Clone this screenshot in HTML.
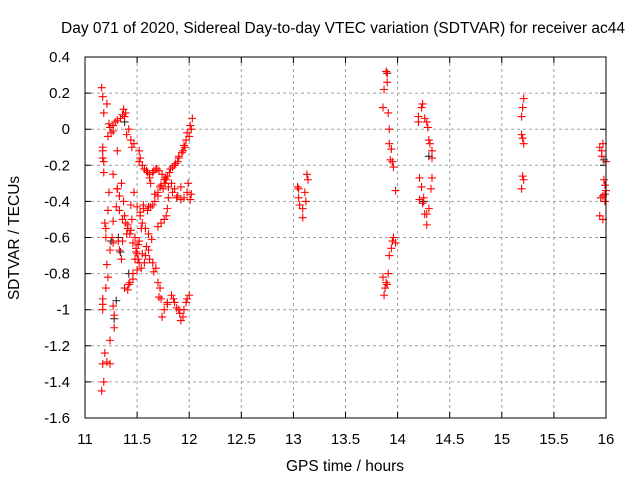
<!DOCTYPE html>
<html><head><meta charset="utf-8"><style>
html,body{margin:0;padding:0;background:#fff;}
svg{display:block;font-family:"Liberation Sans",Arial,sans-serif;}
</style></head><body>
<svg id="chart" width="640" height="480" viewBox="0 0 640 480" xmlns="http://www.w3.org/2000/svg">
<rect x="0" y="0" width="640" height="480" fill="#fff"/>
<text x="343" y="33" font-size="15.5" text-anchor="middle" fill="#000">Day 071 of 2020, Sidereal Day-to-day VTEC variation (SDTVAR) for receiver ac44</text>
<text transform="translate(19,238) rotate(-90)" font-size="15.5" text-anchor="middle" fill="#000">SDTVAR / TECUs</text>
<text x="345" y="471" font-size="15.5" text-anchor="middle" fill="#000">GPS time / hours</text>
<g id="grid"></g>
<g id="ticks"></g>
<g id="marks"></g>
<rect x="85" y="57" width="521" height="361" fill="none" stroke="#000" stroke-width="1"/>
</svg>
<script>
const xTicks = [11, 11.5, 12, 12.5, 13, 13.5, 14, 14.5, 15, 15.5, 16];
const xTickLabels = ["11","11.5","12","12.5","13","13.5","14","14.5","15","15.5","16"];
const yTicks = [0.4, 0.2, 0, -0.2, -0.4, -0.6, -0.8, -1, -1.2, -1.4, -1.6];
const yTickLabels = ["0.4","0.2","0","-0.2","-0.4","-0.6","-0.8","-1","-1.2","-1.4","-1.6"];
const redTimes = [
11.16,11.17,11.21,11.18,11.24,11.27,11.22,11.17,11.17,11.31,11.17,11.18,11.18,11.27,11.31,
11.21,11.22,11.2,11.17,11.17,11.17,11.27,11.28,11.28,11.24,11.19,11.21,11.17,11.24,11.18,11.16,
11.26,11.27,11.24,11.33,11.27,11.2,11.22,
11.27,11.31,11.36,11.39,11.37,11.42,11.44,11.47,11.52,11.53,11.52,11.57,11.6,11.62,11.65,11.68,11.71,11.76,11.79,11.82,11.86,11.89,11.9,11.94,11.95,11.97,11.98,12.01,12.03,
11.31,11.33,11.3,11.38,11.39,11.41,11.43,11.46,11.49,11.5,11.52,11.5,11.46,11.43,11.41,11.38,
11.5,11.53,11.56,11.61,11.65,11.7,11.75,11.78,11.83,11.86,11.89,11.92,11.95,11.98,12.01,
11.7,11.73,11.76,11.78,11.79,11.64,11.61,11.58,11.57,11.54,11.65,11.66,11.7,11.71,11.73,11.76,11.74,11.79,11.83,11.86,11.88,11.91,11.92,11.95,11.98,12.0,
11.58,11.61,11.55,11.53,11.49,11.55,11.35,11.37,11.33,11.45,11.44,11.4,11.36,11.47,11.63,11.67,11.72,11.8,11.92,11.99,12.02,11.48,11.52,
11.23,11.25,11.29,11.34,11.38,11.4,11.45,11.55,11.59,11.62,11.66,11.69,11.74,11.77,11.81,11.84,11.87,11.9,11.93,11.96,12.0,12.02,
11.36,11.41,11.44,11.48,11.51,11.56,11.6,11.63,11.67,11.7,11.73,11.77,11.8,11.84,11.88,
11.32,11.35,11.42,11.46,11.51,11.54,11.59,11.62,11.68,11.72,11.79,11.85,11.9,11.94,11.97,11.2,11.23,11.19,
13.13,13.14,13.04,13.05,13.11,13.05,13.12,13.06,13.09,13.09,
13.89,13.9,13.9,13.87,13.86,13.91,13.92,13.92,13.94,13.93,13.95,13.96,13.98,13.96,13.95,13.98,13.94,13.92,13.91,13.86,13.89,13.9,13.88,13.87,
14.24,14.23,14.2,14.26,14.2,14.28,14.29,14.3,14.31,14.33,14.33,14.21,14.33,14.23,14.32,14.25,14.21,14.24,14.3,14.26,14.28,14.28,
15.21,15.2,15.19,15.19,15.2,15.21,15.2,15.21,15.19,
15.97,15.94,15.96,15.96,16.0,15.98,15.99,16.0,15.95,15.97,15.99,15.99,15.94,15.97
];
const redValues = [
0.23,0.18,0.14,0.09,0.01,-0.01,-0.04,-0.10,-0.12,-0.12,-0.16,-0.18,-0.24,-0.25,-0.33,
-0.75,-0.82,-0.88,-0.94,-0.97,-1.0,-0.98,-1.03,-1.10,-1.17,-1.24,-1.29,-1.30,-1.30,-1.40,-1.45,
-0.6,-0.63,-0.67,-0.67,-0.51,-0.55,-0.45,
0.02,0.05,0.08,0.09,0.11,0.0,-0.06,-0.08,-0.12,-0.16,-0.18,-0.22,-0.24,-0.27,-0.24,-0.22,-0.23,-0.28,-0.26,-0.22,-0.2,-0.18,-0.15,-0.12,-0.09,-0.06,-0.02,0.02,0.06,
-0.33,-0.37,-0.43,-0.48,-0.52,-0.55,-0.58,-0.63,-0.66,-0.69,-0.74,-0.78,-0.83,-0.85,-0.89,-0.88,
-0.43,-0.46,-0.44,-0.43,-0.42,-0.37,-0.33,-0.28,-0.3,-0.33,-0.37,-0.39,-0.38,-0.35,-0.39,
-0.54,-0.52,-0.5,-0.48,-0.44,-0.61,-0.67,-0.70,-0.74,-0.77,-0.74,-0.79,-0.85,-0.93,-0.94,-1.0,-1.04,-0.97,-0.92,-0.96,-0.99,-1.02,-1.06,-1.0,-0.94,-0.92,
-0.55,-0.58,-0.52,-0.48,-0.68,-0.69,-0.3,-0.4,-0.45,-0.5,-0.42,-0.58,-0.62,-0.35,-0.3,-0.36,-0.32,-0.38,-0.32,-0.3,-0.36,-0.72,-0.62,
0.03,-0.02,0.04,0.06,0.07,-0.03,-0.1,-0.2,-0.23,-0.25,-0.23,-0.22,-0.25,-0.27,-0.24,-0.21,-0.19,-0.16,-0.13,-0.1,-0.04,0.0,
-0.5,-0.53,-0.56,-0.6,-0.64,-0.42,-0.45,-0.43,-0.4,-0.35,-0.31,-0.3,-0.32,-0.35,-0.38,
-0.62,-0.72,-0.86,-0.8,-0.72,-0.55,-0.65,-0.72,-0.77,-0.88,-0.96,-0.94,-1.0,-1.04,-0.96,-0.6,-0.35,-0.52,
-0.25,-0.28,-0.32,-0.38,-0.35,-0.33,-0.4,-0.42,-0.44,-0.49,
0.32,0.31,0.26,0.22,0.12,0.09,0.0,-0.08,-0.11,-0.17,-0.18,-0.21,-0.34,-0.60,-0.62,-0.63,-0.66,-0.70,-0.80,-0.82,-0.85,-0.86,-0.88,-0.92,
0.14,0.12,0.07,0.06,0.04,0.04,0.01,-0.06,-0.08,-0.12,-0.16,-0.27,-0.27,-0.32,-0.33,-0.38,-0.39,-0.41,-0.44,-0.47,-0.47,-0.53,
0.17,0.12,0.07,-0.03,-0.05,-0.08,-0.26,-0.28,-0.33,
-0.08,-0.10,-0.12,-0.15,-0.18,-0.28,-0.31,-0.34,-0.38,-0.37,-0.36,-0.40,-0.48,-0.50
];
const blackTimes = [13.9, 11.32, 11.34, 11.3, 11.28, 11.38, 11.42, 14.3, 15.98, 14.25, 11.25];
const blackValues = [0.31, -0.6, -0.68, -0.95, -1.05, 0.04, -0.8, -0.15, -0.17, -0.4, -0.62];

const X0 = 85, X1 = 606, Y0 = 418, Y1 = 57;
function xScale(t){ return X0 + (t - 11) / 5 * (X1 - X0); }
function yScale(v){ return Y0 - (v + 1.6) / 2 * (Y0 - Y1); }
const NS = "http://www.w3.org/2000/svg";
function mk(tag, attrs){ const e = document.createElementNS(NS, tag); for (const k in attrs) e.setAttribute(k, attrs[k]); return e; }
const grid = document.getElementById('grid');
const ticks = document.getElementById('ticks');
const marks = document.getElementById('marks');

xTicks.forEach((t, i) => {
  const x = xScale(t);
  if (i > 0 && i < xTicks.length - 1) {
    const g = mk('line', {x1:x, x2:x, y1:Y1, y2:Y0, stroke:'#a0a0a0', 'stroke-dasharray':'3,3'});
    
    
    grid.appendChild(g);
  }
  const tk = mk('path', {d:`M${x},${Y0}v-6M${x},${Y1}v6`, stroke:'#000'});
  
  
  ticks.appendChild(tk);
  const lb = mk('text', {x:x, y:444, 'font-size':15, 'text-anchor':'middle'});
  lb.textContent = xTickLabels[i];
  
  
  ticks.appendChild(lb);
});
yTicks.forEach((v, i) => {
  const y = yScale(v);
  if (i > 0 && i < yTicks.length - 1) {
    const g = mk('line', {x1:X0, x2:X1, y1:y, y2:y, stroke:'#a0a0a0', 'stroke-dasharray':'3,3'});
    
    
    grid.appendChild(g);
  }
  const tk = mk('path', {d:`M${X0},${y}h6M${X1},${y}h-6`, stroke:'#000'});
  
  
  ticks.appendChild(tk);
  const lb = mk('text', {x:70, y:y + 5, 'font-size':15, 'text-anchor':'end'});
  lb.textContent = yTickLabels[i];
  
  
  ticks.appendChild(lb);
});
function plus(t, v, color, name){
  const x = xScale(t), y = yScale(v);
  const p = mk('path', {d:`M${x-4},${y}h8M${x},${y-4}v8`, stroke:color, 'stroke-width':1.1});
  
  
  marks.appendChild(p);
}
blackTimes.forEach((t, i) => plus(t, blackValues[i], '#303030', 'reference-point'));
redTimes.forEach((t, i) => plus(t, redValues[i], '#ff0000', 'sdtvar-point'));
</script>
</body></html>
